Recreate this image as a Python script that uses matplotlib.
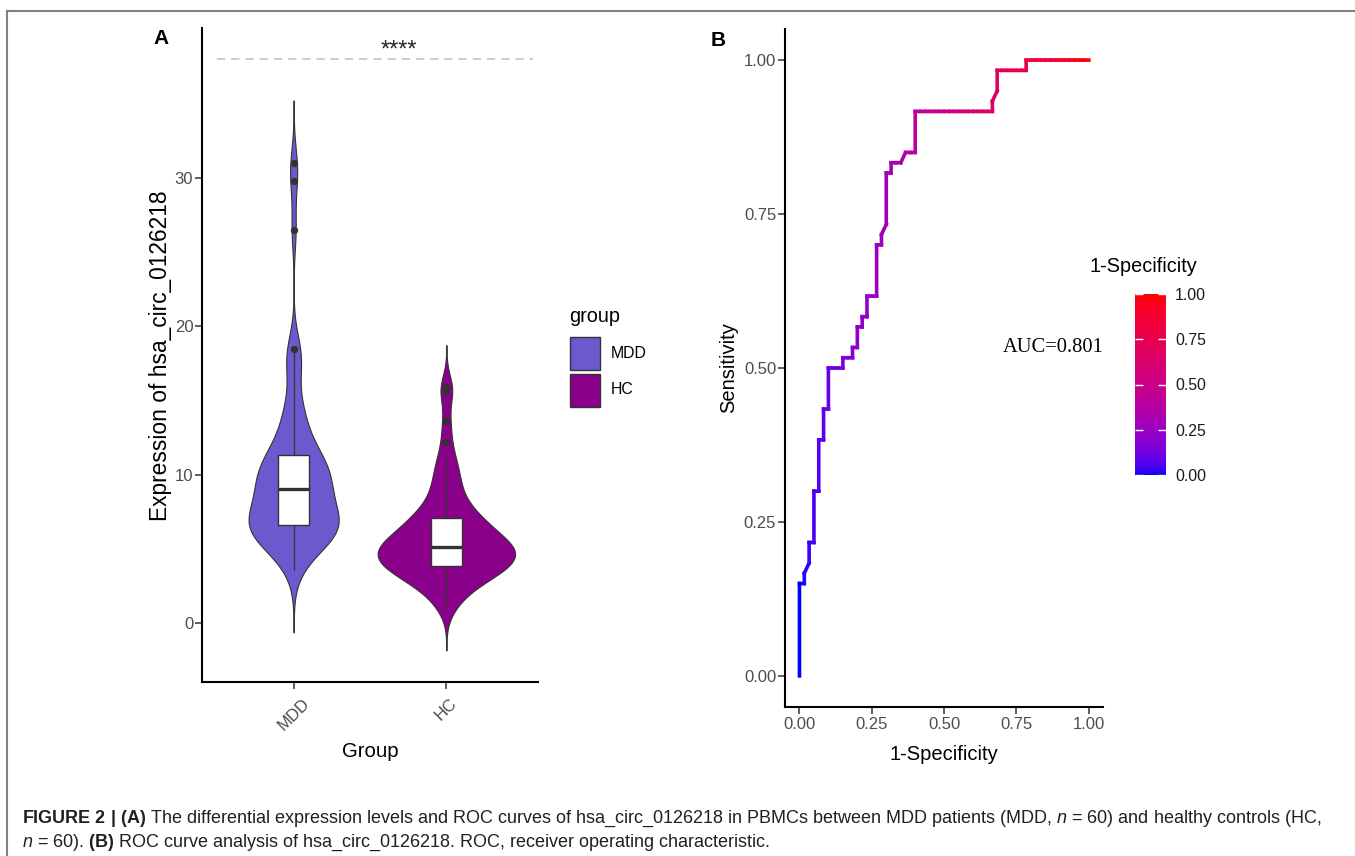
import re
import numpy as np
import matplotlib
matplotlib.use("Agg")
import matplotlib.pyplot as plt
from matplotlib.collections import LineCollection
from matplotlib.colors import ListedColormap, Normalize
from matplotlib.patches import Rectangle
from matplotlib.lines import Line2D
import matplotlib.cm as cm

plt.rcParams["font.family"] = ["Liberation Sans", "DejaVu Sans"]
plt.rcParams["mathtext.fontset"] = "custom"
plt.rcParams["mathtext.rm"] = "Liberation Sans"
plt.rcParams["mathtext.it"] = "Liberation Sans:italic"
plt.rcParams["mathtext.bf"] = "Liberation Sans:bold"

# ---------------- data ----------------
groups = ["MDD", "HC"]
group_colors = ["#6A5ACD", "#8B008B"]

mdd_expr = np.array([
    3.59, 4.3, 4.8, 5.1, 5.35, 5.55, 5.7, 5.85, 5.95, 6.05, 6.15, 6.25, 6.35, 6.45, 6.55,
    6.62, 6.7, 6.8, 6.9, 7.0, 7.1, 7.25, 7.4, 7.6, 7.8, 8.05, 8.3, 8.55, 8.8, 9.0,
    9.08, 9.2, 9.35, 9.5, 9.65, 9.8, 9.95, 10.1, 10.3, 10.5, 10.7, 10.9, 11.1, 11.25, 11.3,
    11.45, 11.9, 12.4, 12.9, 13.4, 13.9, 14.4, 15.0, 16.9, 17.6, 18.3,
    18.5, 26.5, 29.8, 31.0,
])
hc_expr = np.array([
    1.01, 1.6, 2.0, 2.3, 2.55, 2.75, 2.95, 3.1, 3.25, 3.4, 3.5, 3.6, 3.7, 3.78, 3.84,
    3.9, 4.0, 4.1, 4.2, 4.3, 4.4, 4.5, 4.6, 4.7, 4.8, 4.88, 4.95, 5.02, 5.08, 5.14,
    5.18, 5.28, 5.38, 5.5, 5.62, 5.75, 5.88, 6.0, 6.15, 6.3, 6.45, 6.6, 6.75, 6.9, 7.05,
    7.15, 7.4, 7.7, 8.0, 8.3, 8.7, 9.1, 9.6, 10.1, 10.6, 11.1,
    12.2, 13.6, 15.6, 15.9,
])
signif_label = "****"
signif_y = 38.0
signif_x = 1.69

# samples ranked by decreasing score: P = MDD, N = HC, (..) = tied scores
roc_ranking = ("PPPPPPPPP N P (PN) PP N PPPPP N PPPPP N PPP N PPPP NNN P NN P N PP N P N PP NN "
               "PPPPP N P (PN) PPPPP N P NN (PN) NN PPPP NNNNNNNNNNNNNNNN P (PN) PP NNNNNN P "
               "NNNNNNNNNNNNN")

a_yticks = [0, 10, 20, 30]
b_ticks = [0.0, 0.25, 0.5, 0.75, 1.0]
b_ticklabels = ["0.00", "0.25", "0.50", "0.75", "1.00"]

caption_1 = (r"$\mathbf{FIGURE\ 2\ |\ (A)}$ The differential expression levels and ROC curves of "
             r"hsa_circ_0126218 in PBMCs between MDD patients (MDD, $n$ = 60) and healthy controls (HC,")
caption_2 = (r"$n$ = 60). $\mathbf{(B)}$ ROC curve analysis of hsa_circ_0126218. ROC, receiver "
             r"operating characteristic.")

# ---------------- helpers ----------------
W, H = 1355, 856
fig = plt.figure(figsize=(W / 100, H / 100), dpi=100)
fig.patch.set_facecolor("white")


def fx(x):
    return x / W


def fy(y):
    return 1 - y / H


def axes_px(left, top, right, bottom):
    return fig.add_axes([left / W, 1 - bottom / H, (right - left) / W, (bottom - top) / H])


def bw_nrd0(x):
    sd = np.std(x, ddof=1)
    q75, q25 = np.percentile(x, [75, 25])
    return 0.9 * min(sd, (q75 - q25) / 1.34) * len(x) ** -0.2


def kde(x, bw, cut=3, n=512):
    grid = np.linspace(x.min() - cut * bw, x.max() + cut * bw, n)
    z = (grid[:, None] - x[None, :]) / bw
    d = np.exp(-0.5 * z ** 2).sum(axis=1) / (len(x) * bw * np.sqrt(2 * np.pi))
    return grid, d


# blue -> red gradient interpolated in CIELAB
_M = np.array([[0.4124, 0.3576, 0.1805], [0.2126, 0.7152, 0.0722], [0.0193, 0.1192, 0.9505]])
_WHITE = np.array([0.95047, 1.0, 1.08883])


def rgb_to_lab(rgb):
    c = np.asarray(rgb, float)
    lin = np.where(c <= 0.04045, c / 12.92, ((c + 0.055) / 1.055) ** 2.4)
    t = (_M @ lin) / _WHITE
    f = np.where(t > 0.008856, np.cbrt(t), 7.787 * t + 16 / 116)
    return np.array([116 * f[1] - 16, 500 * (f[0] - f[1]), 200 * (f[1] - f[2])])


def lab_to_rgb(lab):
    L, a, b = lab
    fyv = (L + 16) / 116
    f = np.array([fyv + a / 500, fyv, fyv - b / 200])
    t = np.where(f ** 3 > 0.008856, f ** 3, (f - 16 / 116) / 7.787)
    lin = np.linalg.solve(_M, t * _WHITE)
    lin = np.clip(lin, 0, 1)
    c = np.where(lin <= 0.0031308, 12.92 * lin, 1.055 * lin ** (1 / 2.4) - 0.055)
    return np.clip(c, 0, 1)


lab_lo = rgb_to_lab([0, 0, 1])
lab_hi = rgb_to_lab([1, 0, 0])
grad = [lab_to_rgb(lab_lo + s * (lab_hi - lab_lo)) for s in np.linspace(0, 1, 256)]
roc_cmap = ListedColormap(grad)

# ---------------- panel A ----------------
axA = axes_px(202, 28, 538, 682)
axA.set_xlim(0.4, 2.6)
axA.set_ylim(-3.95, 40.08)

samples = [mdd_expr, hc_expr]
dens = [kde(v, bw_nrd0(v)) for v in samples]
dmax = max(d.max() for _, d in dens)
edge = "#333333"
for i, (vals, (grid, d), col) in enumerate(zip(samples, dens, group_colors)):
    pos = i + 1
    half = 0.45 * d / dmax
    axA.fill_betweenx(grid, pos - half, pos + half, facecolor=col, edgecolor=edge,
                      linewidth=0.8, zorder=1)
    q1, med, q3 = np.percentile(vals, [25, 50, 75])
    iqr = q3 - q1
    inside = vals[(vals >= q1 - 1.5 * iqr) & (vals <= q3 + 1.5 * iqr)]
    outl = vals[(vals < q1 - 1.5 * iqr) | (vals > q3 + 1.5 * iqr)]
    axA.plot([pos, pos], [q3, inside.max()], color=edge, lw=0.9, zorder=2)
    axA.plot([pos, pos], [inside.min(), q1], color=edge, lw=0.9, zorder=2)
    axA.add_patch(Rectangle((pos - 0.1, q1), 0.2, q3 - q1, facecolor="white",
                            edgecolor=edge, linewidth=1.0, zorder=3))
    axA.plot([pos - 0.1, pos + 0.1], [med, med], color=edge, lw=2.4,
             solid_capstyle="butt", zorder=4)
    axA.plot(np.full(len(outl), pos), outl, "o", ms=4.3, color=edge, zorder=4)

axA.axhline(signif_y, xmin=0.044, xmax=0.986, color="#BEBEBE", lw=1.1,
            linestyle=(0, (5.4, 3.9)), zorder=1)
axA.text(signif_x, signif_y + 0.15, signif_label, ha="center", va="baseline", fontsize=17,
         color="#222222")

axA.set_xticks([1, 2])
axA.set_xticklabels(groups, rotation=45, ha="center", va="top")
axA.set_yticks(a_yticks)
axA.tick_params(axis="both", length=4.8, width=1.1, color="#333333",
                labelsize=12, labelcolor="#4D4D4D")
axA.tick_params(axis="y", pad=1.5)
axA.tick_params(axis="x", pad=5)
for s in ["top", "right"]:
    axA.spines[s].set_visible(False)
for s in ["left", "bottom"]:
    axA.spines[s].set_linewidth(1.5)
    axA.spines[s].set_color("black")

fig.text(fx(370), fy(751.5), "Group", ha="center", va="center", fontsize=14.7)
fig.text(fx(161), fy(355.5), "Expression of hsa_circ_0126218", ha="center", va="center",
         rotation=90, fontsize=16.4)
fig.text(fx(161), fy(39), "A", ha="center", va="center", fontsize=15, fontweight="bold")

# legend for panel A
fig.text(fx(569), fy(316), "group", ha="left", va="center", fontsize=14.3)
key_tops = [336.5, 373.5]
for name, col, top in zip(groups, group_colors, key_tops):
    fig.add_artist(Rectangle((fx(569.5), fy(top + 33)), 30 / W, 33 / H,
                             transform=fig.transFigure, facecolor=col,
                             edgecolor=edge, linewidth=1.0))
    fig.text(fx(610.5), fy(top + 16.5), name, ha="left", va="center", fontsize=11.4)

# ---------------- panel B ----------------
fp, tp = [0], [0]
for tok in re.findall(r"\([PN]+\)|[PN]", roc_ranking):
    fp.append(fp[-1] + tok.count("N"))
    tp.append(tp[-1] + tok.count("P"))
fpr = np.array(fp) / fp[-1]
tpr = np.array(tp) / tp[-1]
auc = np.trapezoid(tpr, fpr)

# path segments coloured by their starting 1-specificity; consecutive vertical
# steps at the same 1-specificity share one colour and are drawn as one piece
segs, seg_x = [], []
for k in range(len(fpr) - 1):
    p0, p1 = (fpr[k], tpr[k]), (fpr[k + 1], tpr[k + 1])
    if segs and p0[0] == p1[0] and segs[-1][0][0] == segs[-1][1][0] == p0[0]:
        segs[-1] = [segs[-1][0], p1]
    else:
        segs.append([p0, p1])
        seg_x.append(p0[0])

axB = axes_px(785, 29.3, 1103.3, 706.7)
axB.set_xlim(-0.05, 1.05)
axB.set_ylim(-0.05, 1.05)
norm = Normalize(0, 1)
lc = LineCollection(segs, colors=roc_cmap(norm(np.array(seg_x))), linewidths=2.6,
                    capstyle="projecting", joinstyle="miter", snap=False)
axB.add_collection(lc)
axB.text(0.877, 0.533, f"AUC={auc:.3f}", ha="center", va="center", fontsize=14.8,
         family=["Liberation Serif", "DejaVu Serif"])

axB.set_xticks(b_ticks)
axB.set_xticklabels(b_ticklabels)
axB.set_yticks(b_ticks)
axB.set_yticklabels(b_ticklabels)
axB.tick_params(axis="both", length=4.8, width=1.1, color="#333333",
                labelsize=12, labelcolor="#4D4D4D")
axB.tick_params(axis="y", pad=1.5)
axB.tick_params(axis="x", pad=2.5)
for s in ["top", "right"]:
    axB.spines[s].set_visible(False)
for s in ["left", "bottom"]:
    axB.spines[s].set_linewidth(1.5)
    axB.spines[s].set_color("black")

fig.text(fx(944), fy(754), "1-Specificity", ha="center", va="center", fontsize=14.5)
fig.text(fx(729), fy(368), "Sensitivity", ha="center", va="center", rotation=90,
         fontsize=14.5)
fig.text(fx(718), fy(40), "B", ha="center", va="center", fontsize=15, fontweight="bold")

# colour bar
cax = axes_px(1134.5, 294, 1166, 475)
sm = cm.ScalarMappable(norm=norm, cmap=roc_cmap)
cbar = fig.colorbar(sm, cax=cax, ticks=b_ticks)
cbar.set_ticklabels(b_ticklabels)
cbar.outline.set_visible(False)
cax.tick_params(direction="in", length=6, width=1.0, color="white", left=True,
                right=True, labelsize=11.4, labelcolor="#1A1A1A", pad=6.5)
fig.text(fx(1143.5), fy(266.5), "1-Specificity", ha="center", va="center", fontsize=14.3)

# ---------------- frame & caption ----------------
fig.add_artist(Line2D([fx(7.5), 1.0], [fy(10.7), fy(10.7)], transform=fig.transFigure,
                      color="#808080", lw=1.5))
fig.add_artist(Line2D([fx(7.5), fx(7.5)], [fy(10.7), 0.0], transform=fig.transFigure,
                      color="#808080", lw=1.5))
fig.text(fx(22), fy(823), caption_1, ha="left", va="baseline", fontsize=12.95, color="#231F20")
fig.text(fx(22), fy(847), caption_2, ha="left", va="baseline", fontsize=12.95, color="#231F20")

fig.savefig("out.png", dpi=100, facecolor="white")
